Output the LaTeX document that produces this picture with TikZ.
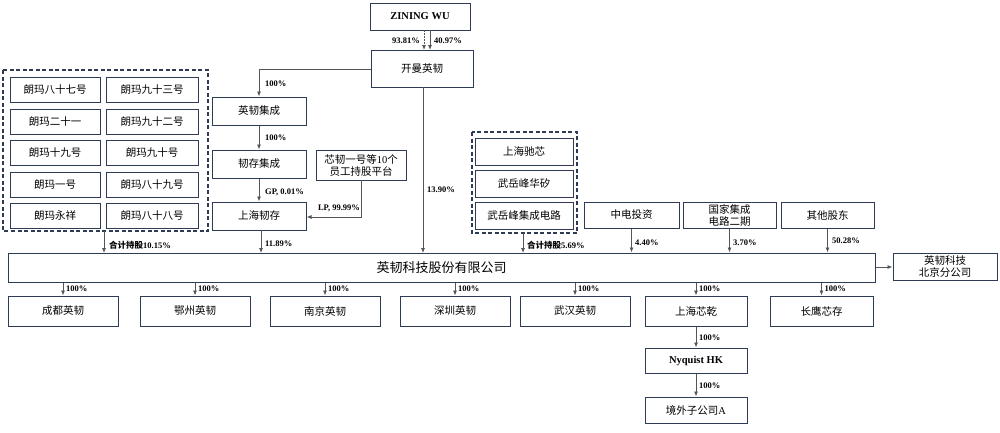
\documentclass[tikz,border=0pt]{standalone}
\usepackage{fontspec}
\setmainfont{Liberation Serif}
\newfontfamily\cjk{Noto Sans CJK SC}
\begin{document}
\begin{tikzpicture}[x=1pt,y=-1pt,
 bx/.style={draw=bc,line width=1pt,fill=white,font=\cjk\fontsize{10.5}{12}\selectfont,align=center,inner sep=0pt},
 ln/.style={draw=lc,line width=0.8pt,-{Latex[length=5pt,width=4pt]}},
 lb/.style={font=\bfseries\fontsize{8.5}{10}\selectfont,inner sep=1pt},
 lbc/.style={font=\cjk\bfseries\fontsize{8.5}{10}\selectfont,inner sep=1pt},
 dg/.style={draw=bc,line width=1.3pt,dash pattern=on 4pt off 2.5pt}]
\usetikzlibrary{arrows.meta}
\definecolor{bc}{HTML}{2E3B55}
\definecolor{lc}{HTML}{555555}
\useasboundingbox (0,0) rectangle (1000,432);
\newcommand\bxx[6]{\node[bx,minimum width=#4-#2,minimum height=#5-#3] (#1) at ({(#2+#4)/2},{(#3+#5)/2}) {#6};}
% top
\bxx{zw}{370}{3}{470}{30}{\rmfamily\bfseries ZINING WU}
\bxx{km}{371}{50}{473}{87}{开曼英韧}
\draw[ln,dash pattern=on 1.5pt off 1.5pt] (424,30) -- (424,50);
\draw[ln] (430,30) -- (430,50);
\node[lb,anchor=east] at (421,41) {93.81\%};
\node[lb,anchor=west] at (433,41) {40.97\%};
\bxx{yj}{212}{97}{306}{125}{英韧集成}
\bxx{rc}{212}{150}{306}{178}{韧存集成}
\bxx{xr}{316}{150}{406}{180}{芯韧一号等\rmfamily 10\cjk 个\\员工持股平台}
\bxx{shrc}{212}{202}{306}{230}{上海韧存}
\draw[ln] (km.west|-0,69) -| (yj.north);
\node[lb,anchor=west] at (264,84) {100\%};
\draw[ln] (yj) -- (rc);
\node[lb,anchor=west] at (264,138) {100\%};
\draw[ln] (rc) -- (shrc);
\node[lb,anchor=west] at (264,192) {GP, 0.01\%};
\draw[ln] (xr.south|-0,180) |- (shrc.east|-0,217);
\node[lb] at (339,208) {LP, 99.99\%};
% main
\bxx{main}{8}{253}{875}{282}{\fontsize{13}{15}\selectfont 英韧科技股份有限公司}
\draw[ln] (261,230) -- (261,253);
\node[lb,anchor=west] at (264,244) {11.89\%};
\draw[ln] (423,87) -- (423,253);
\node[lb,anchor=west] at (426,190) {13.90\%};
% left group
\draw[dg] (3,70) rectangle (208,231);
\foreach \a/\b/\y [count=\i] in {朗玛八十七号/朗玛九十三号/77,朗玛二十一/朗玛九十二号/109,朗玛十九号/朗玛九十号/140,朗玛一号/朗玛八十九号/172,朗玛永祥/朗玛八十八号/203}{
 \bxx{la\i}{10}{\y}{100}{\y+25}{\a}
 \bxx{lb\i}{106}{\y}{198}{\y+25}{\b}}
\coordinate (lg) at (104,231);
\draw[ln] (lg) -- (104,253);
\node[lbc,anchor=west] at (108,245) {合计持股\rmfamily 10.15\%};
% right group
\draw[dg] (472,132) rectangle (577,233);
\bxx{r1}{475}{138}{573}{165}{上海驰芯}
\bxx{r2}{475}{170}{573}{197}{武岳峰华矽}
\bxx{r3}{475}{202}{573}{229}{武岳峰集成电路}
\coordinate (rg) at (523,233);
\draw[ln] (rg) -- (523,253);
\node[lbc,anchor=west] at (526,245) {合计持股\rmfamily 5.69\%};
\bxx{zd}{584}{202}{679}{228}{中电投资}
\bxx{gj}{683}{202}{776}{228}{国家集成\\电路二期}
\bxx{qt}{781}{202}{874}{228}{其他股东}
\draw[ln] (zd) -- (zd|-main.north); \node[lb,anchor=west] at (634,243) {4.40\%};
\draw[ln] (gj) -- (gj|-main.north); \node[lb,anchor=west] at (732,243) {3.70\%};
\draw[ln] (qt) -- (qt|-main.north); \node[lb,anchor=west] at (831,241) {50.28\%};
\bxx{bj}{893}{253}{997}{280}{英韧科技\\北京分公司}
\draw[ln] (main.east|-0,267) -- (bj.west|-0,267);
% bottom
\foreach \n/\a/\b/\t in {cd/8/118/成都英韧,ez/140/250/鄂州英韧,nj/270/380/南京英韧,sz/400/510/深圳英韧,wh/520/630/武汉英韧,xq/645/747/上海芯乾,cy/770/873/长鹰芯存}{
 \bxx{\n}{\a}{296}{\b}{326}{\t}
 \draw[ln] (\n.north|-main.south) -- (\n.north);
 \node[lb,anchor=west] at ([xshift=2pt]\n.north|-0,289) {100\%};}
\bxx{ny}{645}{348}{747}{373}{\rmfamily\bfseries Nyquist HK}
\bxx{jw}{645}{397}{747}{423}{境外子公司\rmfamily A}
\draw[ln] (xq) -- (ny); \node[lb,anchor=west] at (698,338) {100\%};
\draw[ln] (ny) -- (jw); \node[lb,anchor=west] at (698,386) {100\%};
\end{tikzpicture}
\end{document}
